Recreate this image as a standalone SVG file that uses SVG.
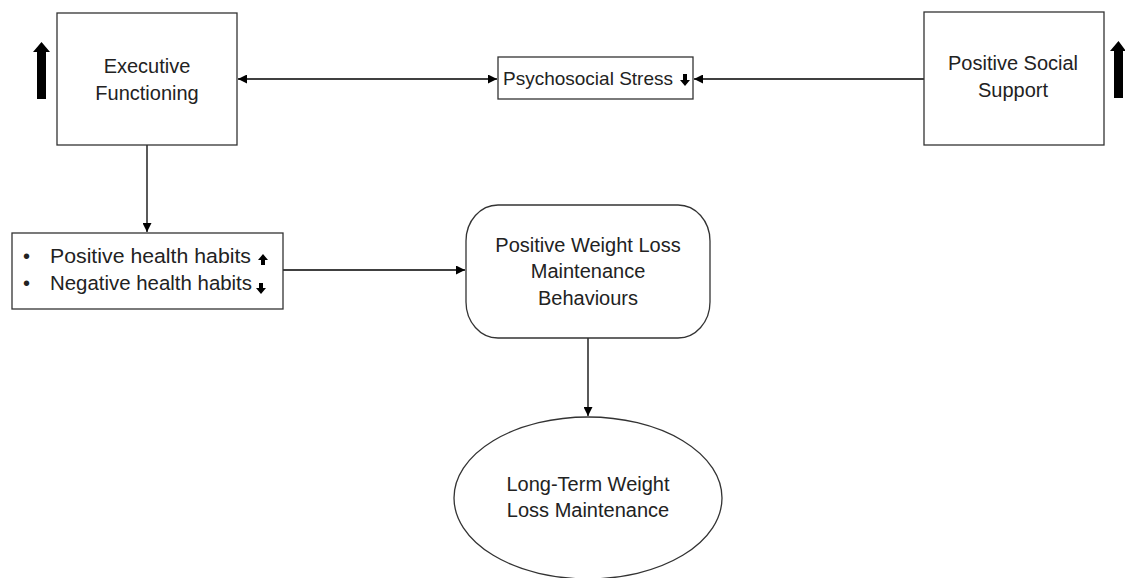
<svg xmlns="http://www.w3.org/2000/svg" width="1125" height="578" viewBox="0 0 1125 578">
<style>
.box{fill:#fff;stroke:#333;stroke-width:1.3}
.t{font-family:"Liberation Sans",Arial,sans-serif;font-size:20px;fill:#222}
.c{text-anchor:middle}
.ln{stroke:#000;stroke-width:1.3;fill:none}
.big{fill:#000}
</style>
<defs>
<marker id="ah" viewBox="0 0 10 10" refX="10" refY="5" markerWidth="9" markerHeight="9" markerUnits="userSpaceOnUse" orient="auto-start-reverse">
<path d="M0,0 L10,5 L0,10 z" fill="#000"/>
</marker>
</defs>
<rect width="1125" height="578" fill="#fff"/>
<g id="connectors">
<line class="ln" x1="238" y1="79" x2="497" y2="79" marker-start="url(#ah)" marker-end="url(#ah)"/>
<line class="ln" x1="924" y1="79" x2="694" y2="79" marker-end="url(#ah)"/>
<line class="ln" x1="147" y1="145" x2="147" y2="232" marker-end="url(#ah)"/>
<line class="ln" x1="283" y1="270" x2="465" y2="270" marker-end="url(#ah)"/>
<line class="ln" x1="588" y1="338" x2="588" y2="416" marker-end="url(#ah)"/>
</g>
<g id="exec">
<rect class="box" x="57" y="13" width="180" height="132"/>
<text class="t c" x="147" y="73">Executive</text>
<text class="t c" x="147" y="100">Functioning</text>
<path class="big" d="M37,99 L46,99 L46,52 L50,52 L41.5,42 L33,52 L37,52 z"/>
</g>
<g id="stress">
<rect class="box" x="498" y="57" width="195" height="42"/>
<text class="t" x="503" y="85" style="font-size:19px">Psychosocial Stress</text>
<path class="big" d="M683,74 L687,74 L687,80 L690,80 L685,86 L680,80 L683,80 z"/>
</g>
<g id="social">
<rect class="box" x="924" y="12" width="180" height="133"/>
<text class="t c" x="1013" y="70">Positive Social</text>
<text class="t c" x="1013" y="97">Support</text>
<path class="big" d="M1114,98 L1123,98 L1123,51 L1126,51 L1118.5,41 L1110,51 L1114,51 z"/>
</g>
<g id="habits">
<rect class="box" x="12" y="233" width="271" height="76"/>
<text class="t" x="23" y="263">•</text>
<text class="t" x="50" y="263" style="font-size:20.5px" textLength="201" lengthAdjust="spacingAndGlyphs">Positive health habits</text>
<text class="t" x="23" y="290">•</text>
<text class="t" x="50" y="290" style="font-size:20.5px" textLength="202" lengthAdjust="spacingAndGlyphs">Negative health habits</text>
<path class="big" d="M261,265 L265,265 L265,260 L268,260 L263,254 L258,260 L261,260 z"/>
<path class="big" d="M259,283 L263,283 L263,288 L266,288 L261,294 L256,288 L259,288 z"/>
</g>
<g id="behaviours">
<rect class="box" x="466" y="205" width="244" height="133" rx="32" ry="36"/>
<text class="t c" x="588" y="252">Positive Weight Loss</text>
<text class="t c" x="588" y="278">Maintenance</text>
<text class="t c" x="588" y="305">Behaviours</text>
</g>
<g id="longterm">
<ellipse class="box" cx="588" cy="498" rx="134" ry="81"/>
<text class="t c" x="588" y="491">Long-Term Weight</text>
<text class="t c" x="588" y="517">Loss Maintenance</text>
</g>
</svg>
